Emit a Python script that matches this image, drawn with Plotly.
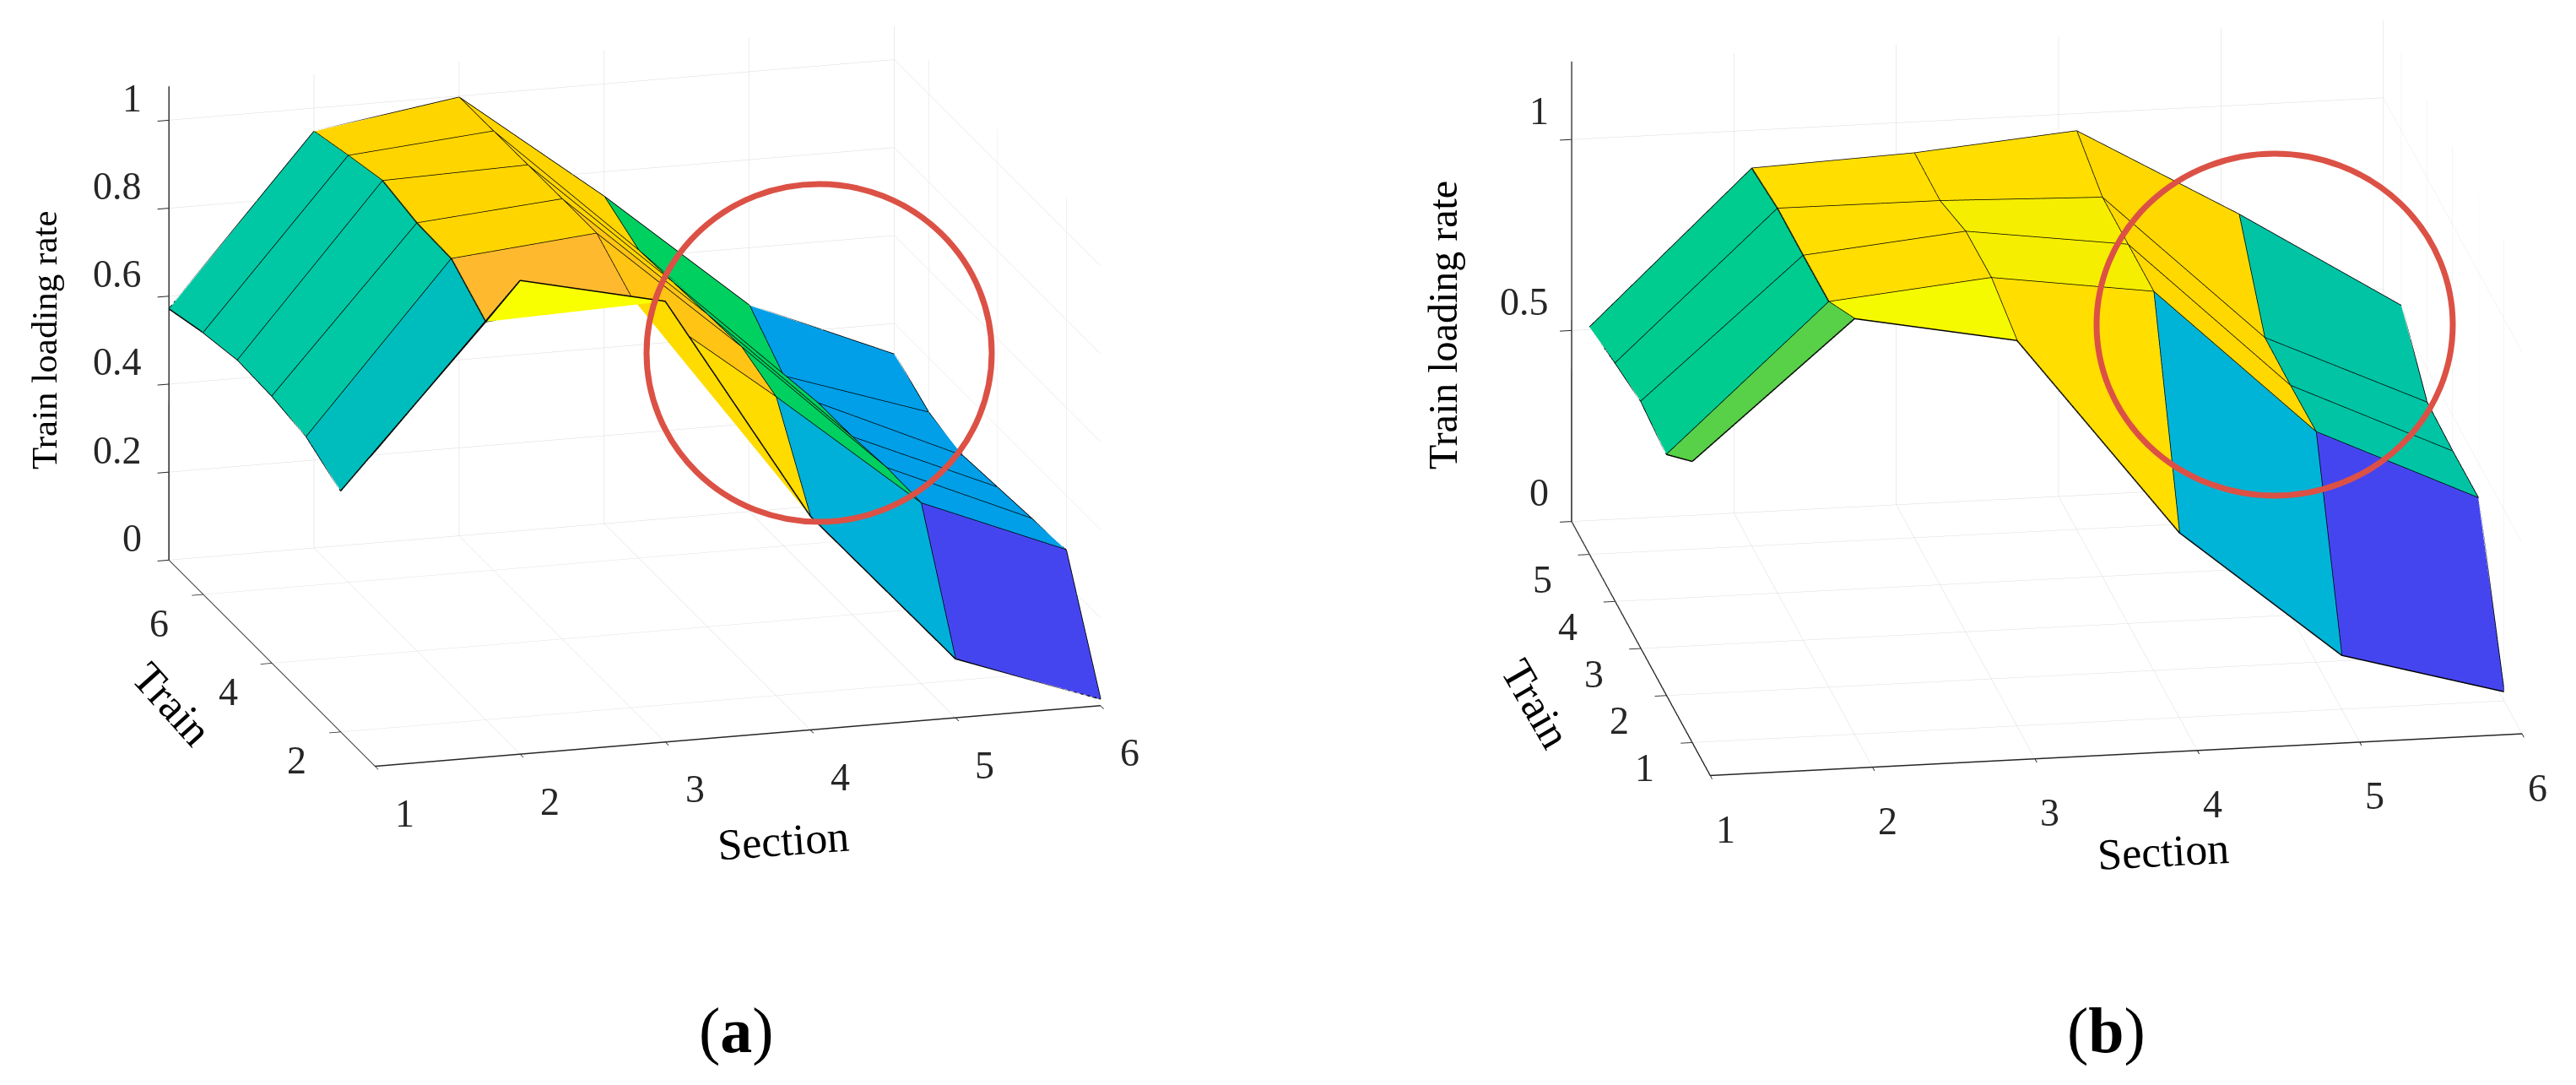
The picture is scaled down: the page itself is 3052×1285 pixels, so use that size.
"""Train loading rate surfaces, panels (a) and (b)."""
import plotly.graph_objects as go

W, H = 3052, 1285

sections = [1, 2, 3, 4, 5, 6]
trains_a = [1, 2, 3, 4, 5, 6, 7]
trains_b = [1, 2, 3, 4, 5]
train_ticks_a = [2, 4, 6]
train_ticks_b = [1, 2, 3, 4, 5]
rate_ticks_a = [0, 0.2, 0.4, 0.6, 0.8, 1]
rate_ticks_b = [0, 0.5, 1]

# loading rate per section, train 1 first
a_s1 = [0.716, 0.548, 0.593, 0.607, 0.611, 0.595, 0.571]
a_s2 = [1.077, 0.905, 0.970, 0.973, 0.991, 0.970, 0.947]
a_s3 = [1.002, 0.935, 1.000, 1.000, 0.999, 0.998, 0.997]
a_s4 = [0.486, 0.679, 0.714, 0.710, 0.705, 0.700, 0.744]
a_s5 = [0.134, 0.410, 0.412, 0.404, 0.403, 0.386, 0.469]
a_s6 = [0.015, 0.276, 0.269, 0.262, 0.255, 0.276, 0.330]

b_s1 = [0.736, 0.631, 0.647, 0.624, 0.595]
b_s2 = [1.088, 1.009, 1.007, 1.007, 0.989]
b_s3 = [1.009, 1.050, 1.048, 1.005, 1.007]
b_s4 = [0.484, 0.992, 0.992, 0.992, 1.043]
b_s5 = [0.141, 0.603, 0.601, 0.603, 0.803]
b_s6 = [0.024, 0.408, 0.407, 0.412, 0.542]

# facet colours, one row per section gap, train gap 1-2 first
a_colors = [
    ["#55C040", "#00BDBD", "#00C8A4", "#00C8A4", "#00C8A4", "#00C8A4"],
    ["#FAFF00", "#FFB92E", "#FFD500", "#FFD500", "#FFD500", "#FFD500"],
    ["#FFDC00", "#FFC414", "#FFC414", "#FFD500", "#FFD500", "#FFD500"],
    ["#00B0D8", "#00D060", "#00D060", "#00D060", "#00D060", "#00D060"],
    ["#4545F0", "#009FE8", "#009FE8", "#009FE8", "#009FE8", "#009FE8"],
]
b_colors = [
    ["#58D048", "#00CC90", "#00CC90", "#00CC90"],
    ["#F6FA00", "#FFDE00", "#FFDE00", "#FFDE00"],
    ["#FFDE00", "#F5EE00", "#F5EE00", "#FFDE00"],
    ["#00B4D8", "#FFD800", "#FFD800", "#FFD800"],
    ["#4545F0", "#00C4A4", "#00C4A4", "#00C4A4"],
]


def surface_traces(z_rows, trains, colors, scene):
    """Flat coloured facets plus their black edges."""
    n_t = len(trains)
    xs, ys, zs, i, j, k, face = [], [], [], [], [], [], []
    for s, row in zip(sections, z_rows):
        for t, v in zip(trains, row):
            xs.append(s)
            ys.append(t)
            zs.append(v)
    for si in range(len(sections) - 1):
        for ti in range(n_t - 1):
            p = si * n_t + ti
            q = p + n_t
            # split each quad along the (section, train+1) - (section+1, train) diagonal
            i += [p, p + 1]
            j += [q, q]
            k += [p + 1, q + 1]
            face += [colors[si][ti]] * 2
    mesh = go.Mesh3d(
        x=xs, y=ys, z=zs, i=i, j=j, k=k, facecolor=face, flatshading=True,
        lighting=dict(ambient=1, diffuse=0, specular=0, roughness=1, fresnel=0),
        hoverinfo="skip", scene=scene, showscale=False,
    )
    lx, ly, lz = [], [], []
    for s, row in zip(sections, z_rows):
        lx += [s] * n_t + [None]
        ly += list(trains) + [None]
        lz += list(row) + [None]
    for ti, t in enumerate(trains):
        lx += list(sections) + [None]
        ly += [t] * len(sections) + [None]
        lz += [row[ti] for row in z_rows] + [None]
    edges = go.Scatter3d(
        x=lx, y=ly, z=lz, mode="lines", line=dict(color="black", width=3),
        hoverinfo="skip", scene=scene, showlegend=False,
    )
    return [mesh, edges]


def axis(rng, ticks):
    return dict(
        range=rng, tickvals=ticks, showticklabels=False,
        showbackground=False, gridcolor="#DADADA", gridwidth=1, zeroline=False,
        showline=True, linecolor="#262626", linewidth=3, ticks="outside", ticklen=14,
        tickcolor="#262626", tickwidth=2, title=dict(text=""), showspikes=False,
    )


def tick_notes(train_ticks, rate_ticks, y_front, y_back, section_shift, train_shift, rate_shift):
    """Tick labels placed on the scene's own axes."""
    font = dict(family="Liberation Serif", size=46, color="#262626")
    notes = []
    for s in sections:
        notes.append(dict(x=s, y=y_front, z=0, text=str(s), showarrow=False, font=font,
                          xshift=section_shift[0], yshift=section_shift[1]))
    for t in train_ticks:
        notes.append(dict(x=1, y=t, z=0, text=str(t), showarrow=False, font=font,
                          xshift=train_shift[0], yshift=train_shift[1]))
    for r in rate_ticks:
        notes.append(dict(x=1, y=y_back, z=r, text=str(r), showarrow=False, font=font,
                          xanchor="right", xshift=rate_shift[0], yshift=rate_shift[1]))
    return notes


def dom(x0, x1, y0, y1):
    return dict(x=[x0 / W, x1 / W], y=[1 - y1 / H, 1 - y0 / H])


def label(text, x, y, size, angle=0):
    return dict(
        text=text, x=x / W, y=1 - y / H, xref="paper", yref="paper", showarrow=False,
        textangle=angle, xanchor="center", yanchor="middle",
        font=dict(family="Liberation Serif", size=size, color="black"),
    )


fig = go.Figure()
fig.add_traces(surface_traces([a_s1, a_s2, a_s3, a_s4, a_s5, a_s6], trains_a, a_colors, "scene"))
fig.add_traces(surface_traces([b_s1, b_s2, b_s3, b_s4, b_s5, b_s6], trains_b, b_colors, "scene2"))

fig.update_layout(
    width=W, height=H, margin=dict(l=0, r=0, t=0, b=0), paper_bgcolor="white",
    showlegend=False,
    scene=dict(
        domain=dom(52, 1452, 9, 929),
        xaxis=axis([1, 6], sections),
        yaxis=axis([1, 7], train_ticks_a),
        zaxis=axis([0, 1.077], rate_ticks_a),
        aspectmode="manual", aspectratio=dict(x=1.945, y=1.912, z=1.274),
        camera=dict(
            eye=dict(x=-1.1164, y=-3.8628, z=1.214), center=dict(x=0, y=0, z=0),
            up=dict(x=0, y=0, z=1), projection=dict(type="orthographic"),
        ),
        annotations=tick_notes(train_ticks_a, rate_ticks_a, 1, 6.999, (35, -56), (-52, -34), (-30, 26)),
    ),
    scene2=dict(
        domain=dom(1825, 3025, 11, 931),
        xaxis=axis([1, 6], sections),
        yaxis=axis([0.3, 5.7], train_ticks_b),
        zaxis=axis([0, 1.204], rate_ticks_b),
        aspectmode="manual", aspectratio=dict(x=2.12, y=2.162, z=1.244),
        camera=dict(
            eye=dict(x=-0.6132, y=-3.6612, z=1.1964), center=dict(x=0, y=0, z=0),
            up=dict(x=0, y=0, z=1), projection=dict(type="orthographic"),
        ),
        annotations=tick_notes(train_ticks_b, rate_ticks_b, 0.3, 5.7, (18, -64), (-56, -30), (-25, 34)),
    ),
    shapes=[
        dict(type="circle", xref="paper", yref="paper", x0=766 / W, x1=1175 / W,
             y0=1 - 618 / H, y1=1 - 218 / H, line=dict(color="#DC5145", width=7), layer="above"),
        dict(type="circle", xref="paper", yref="paper", x0=2484 / W, x1=2906 / W,
             y0=1 - 587 / H, y1=1 - 182 / H, line=dict(color="#DC5145", width=7), layer="above"),
    ],
    annotations=[
        label("Train loading rate", 52, 403, 43, -90),
        label("Train", 204, 833, 52, 48),
        label("Section", 928, 995, 52, -4),
        label("Train loading rate", 1709, 385, 48, -90),
        label("Train", 1820, 833, 52, 60),
        label("Section", 2563, 1008, 52, -3),
        label("(<b>a</b>)", 872, 1220, 76),
        label("(<b>b</b>)", 2495, 1220, 76),
    ],
)

fig.write_html("out.html", post_script="document.body.style.margin='0';", config=dict(displayModeBar=False))
